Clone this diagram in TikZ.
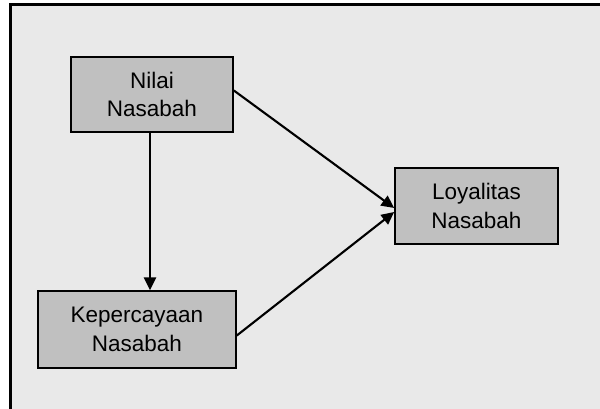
\documentclass[tikz,border=0pt]{standalone}
\usepackage{fontspec}
\setmainfont{Liberation Sans}
\usepackage{xcolor}
\usetikzlibrary{arrows.meta}

\definecolor{panelgray}{HTML}{E9E9E9}
\definecolor{boxgray}{HTML}{C0C0C0}

\tikzset{
  varbox/.style={draw=black, line width=1.2pt, fill=boxgray, align=center,
    font=\fontsize{16}{20.5}\selectfont, inner sep=0pt},
  path/.style={->, line width=1.5pt}
}

\begin{document}
\begin{tikzpicture}[scale=1.0, >={Triangle[length=9pt,width=8.5pt]}]
  \useasboundingbox (0,0) rectangle (15,10.225);
  % Panel background, framed on left and top only
  \fill[panelgray] (0.2625,0) rectangle (15,10.1125);
  \draw[line width=1.6pt] (0.2625,0) -- (0.2625,10.1125) -- (15,10.1125);

  % Variables
  \node[varbox, minimum width=4.05cm, minimum height=1.875cm] (nilai) at (3.8,7.8625) {Nilai\\Nasabah};
  \node[varbox, minimum width=4.95cm, minimum height=1.925cm] (percaya) at (3.425,1.9875) {Kepercayaan\\Nasabah};
  \node[varbox, minimum width=4.075cm, minimum height=1.9cm] (loyal) at (11.9125,5.075) {Loyalitas\\Nasabah};

  % Paths
  \draw[path] ([xshift=-0.05cm]nilai.south) -- ([xshift=-0.05cm]nilai.south |- percaya.north);
  \draw[path] ([yshift=0.1cm]nilai.east) -- ([yshift=-0.05cm]loyal.west);
  \draw[path] ([yshift=-0.15cm]percaya.east) -- ([yshift=-0.15cm]loyal.west);
\end{tikzpicture}
\end{document}
